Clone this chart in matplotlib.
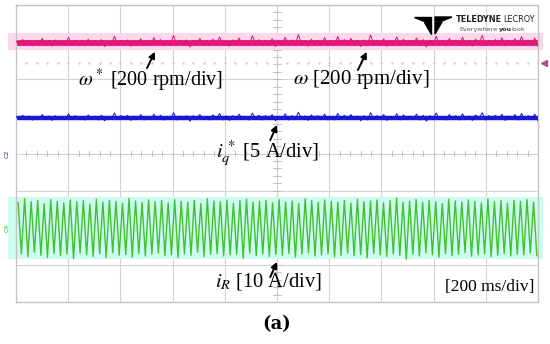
import numpy as np
import matplotlib.pyplot as plt
from matplotlib.patches import Polygon

plt.rcParams['font.family'] = ['Liberation Serif', 'DejaVu Serif']
plt.rcParams['mathtext.fontset'] = 'stix'

# scope settings (divisions)
n_xdiv = 10
n_ydiv = 8
trigger_level = 2.44

# speed trace (pink), noise in 1/100 div
pink_level = 2.98
pink_noise = [
    5, -6, 9, -4, 7, -8, 4, -5, 12, -6, 6, -9, 8, -4, 5, -7, 15, -5, 7, -6,
    4, -8, 10, -5, 6, -7, 9, -10, 5, -4, 18, -6, 7, -5, 8, -9, 6, -4, 11, -7,
    5, -6, 14, -5, 9, -8, 4, -6, 20, -7, 6, -5, 8, -11, 7, -4, 12, -6, 5, -8,
    10, -5, 16, -7, 6, -9, 8, -5, 13, -6, 4, -7, 19, -4, 9, -8, 7, -6, 11, -10,
    5, -5, 15, -7, 8, -6, 22, -4, 6, -9, 10, -5, 7, -6, 14, -8, 5, -7, 17, -5,
    9, -6, 12, -4, 6, -10, 8, -7, 21, -5, 7, -6, 11, -9, 5, -4, 16, -8, 10, -6,
    6, -5, 13, -7, 9, -11, 7, -4, 18, -6, 5, -8, 12, -5, 8, -7, 15, -6, 6, -9,
    10, -4, 20, -7, 7, -6, 9, -5, 14, -8, 6, -4, 11, -7, 17, -6, 8, -5, 13, -9]

# iq trace (blue)
blue_level = 0.96
blue_noise = [
    4, -5, 7, -3, 5, -6, 3, -4, 9, -5, 5, -7, 6, -3, 4, -5, 11, -4, 6, -5,
    3, -6, 8, -4, 5, -6, 7, -8, 4, -3, 13, -5, 6, -4, 7, -7, 5, -3, 9, -6,
    4, -5, 10, -4, 7, -6, 3, -5, 14, -6, 5, -4, 6, -9, 6, -3, 9, -5, 4, -6,
    8, -4, 12, -6, 5, -7, 6, -4, 10, -5, 3, -6, 13, -3, 7, -6, 6, -5, 9, -8,
    4, -4, 11, -6, 6, -5, 15, -3, 5, -7, 8, -4, 6, -5, 10, -6, 4, -6, 12, -4,
    7, -5, 9, -3, 5, -8, 6, -6, 14, -4, 6, -5, 9, -7, 4, -3, 11, -6, 8, -5,
    5, -4, 10, -6, 7, -9, 6, -3, 13, -5, 4, -6, 9, -4, 6, -6, 11, -5, 5, -7,
    8, -3, 14, -6, 6, -5, 7, -4, 10, -7, 5, -3, 9, -6, 12, -5, 6, -4, 10, -8]

# iR trace (green): peak / trough of every cycle, div
green_period = 0.125
green_peaks = [
    -1.32, -1.22, -1.30, -1.26, -1.35, -1.24, -1.29, -1.33, -1.25, -1.30,
    -1.27, -1.36, -1.23, -1.31, -1.26, -1.29, -1.34, -1.21, -1.28, -1.32,
    -1.25, -1.30, -1.27, -1.33, -1.24, -1.29, -1.31, -1.26, -1.35, -1.22,
    -1.28, -1.30, -1.25, -1.34, -1.27, -1.23, -1.31, -1.29, -1.26, -1.33,
    -1.24, -1.30, -1.28, -1.35, -1.22, -1.27, -1.32, -1.25, -1.29, -1.31,
    -1.26, -1.34, -1.23, -1.30, -1.28, -1.25, -1.33, -1.27, -1.20, -1.31,
    -1.29, -1.24, -1.32, -1.26, -1.30, -1.35, -1.23, -1.28, -1.31, -1.25,
    -1.29, -1.33, -1.22, -1.30, -1.27, -1.34, -1.26, -1.29, -1.24, -1.31]
green_troughs = [
    -2.70, -2.78, -2.66, -2.74, -2.80, -2.69, -2.75, -2.71, -2.83, -2.68,
    -2.73, -2.77, -2.70, -2.81, -2.67, -2.74, -2.72, -2.79, -2.69, -2.76,
    -2.71, -2.68, -2.75, -2.73, -2.80, -2.70, -2.74, -2.66, -2.78, -2.72,
    -2.69, -2.76, -2.73, -2.71, -2.82, -2.68, -2.75, -2.70, -2.77, -2.72,
    -2.74, -2.69, -2.79, -2.71, -2.67, -2.76, -2.73, -2.70, -2.78, -2.74,
    -2.68, -2.75, -2.72, -2.81, -2.69, -2.73, -2.77, -2.70, -2.74, -2.85,
    -2.71, -2.76, -2.68, -2.73, -2.79, -2.70, -2.75, -2.72, -2.67, -2.77,
    -2.73, -2.70, -2.78, -2.74, -2.69, -2.76, -2.71, -2.73, -2.68, -2.75]

W, H = 550, 344
fig = plt.figure(figsize=(W / 100, H / 100), dpi=100)
ax = fig.add_axes([16 / W, 1 - 302 / H, 522 / W, 297 / H])
ax.set_xlim(0, n_xdiv)
ax.set_ylim(-n_ydiv / 2, n_ydiv / 2)
ax.set_xticks([])
ax.set_yticks([])
for s in ax.spines.values():
    s.set_color('#C4C4C4')
    s.set_linewidth(1.0)

# graticule
for i in range(1, n_xdiv):
    ax.axvline(i, color='#D2D2D2', lw=0.8, zorder=0)
for j in range(-n_ydiv // 2 + 1, n_ydiv // 2):
    ax.axhline(j, color='#D2D2D2', lw=0.8, zorder=0)
for x in np.arange(0, n_xdiv + 0.01, 0.2):
    ax.plot([x, x], [-0.07, 0.07], color='#B8B8B8', lw=0.6, zorder=0)
for y in np.arange(-n_ydiv / 2, n_ydiv / 2 + 0.01, 0.2):
    ax.plot([4.93, 5.07], [y, y], color='#B8B8B8', lw=0.6, zorder=0)
tx = np.arange(0, n_xdiv + 0.01, 0.2)
ax.plot(tx, np.full(len(tx), trigger_level), ls='none', marker='.', ms=1.3,
        color='#CACACA', zorder=0)
ax.plot([10.12], [trigger_level], marker='<', ms=4, color='#B04C9C',
        clip_on=False)

# glow bands behind traces
ax.fill_between([-0.15, 10.1], pink_level - 0.19, pink_level + 0.27,
                color='#FCD8EC', lw=0, clip_on=False, zorder=1)
ax.fill_between([-0.15, 10.1], min(green_troughs) + 0.02, max(green_peaks) + 0.03,
                color='#CCFDF0', lw=0, clip_on=False, zorder=1)

# pink
tp = np.linspace(0, n_xdiv, len(pink_noise))
ax.plot([0, n_xdiv], [pink_level, pink_level], color='#E8187C', lw=4.2,
        solid_capstyle='butt', zorder=2)
ax.plot(tp, pink_level + np.array(pink_noise) / 100, color='#E0106E',
        lw=0.7, zorder=3)

# blue
tb = np.linspace(0, n_xdiv, len(blue_noise))
ax.plot([0, n_xdiv], [blue_level, blue_level], color='#1C1CD8', lw=3.2,
        solid_capstyle='butt', zorder=2)
ax.plot(tb, blue_level + np.array(blue_noise) / 100, color='#1414D0',
        lw=0.7, zorder=3)

# green
tg = []
yg = []
for k in range(len(green_peaks)):
    tg += [0.04 + k * green_period, 0.04 + (k + 0.5) * green_period]
    yg += [green_peaks[k], green_troughs[k]]
ax.plot(tg, yg, color='#44C02E', lw=1.0, zorder=3)

# channel markers
ax.text(-0.12, 0.0, 'C2', color='#2020C8', fontsize=4.5, rotation=90,
        ha='right', va='center', family='DejaVu Sans', clip_on=False)
ax.text(-0.12, -2.0, 'C4', color='#30B030', fontsize=4.5, rotation=90,
        ha='right', va='center', family='DejaVu Sans', clip_on=False)

# labels
fs = 14.5
ax.text(1.19, 1.98, r'$\omega^*$ [200 rpm/div]', fontsize=fs, ha='left', va='center')
ax.text(5.31, 1.98, r'$\omega$ [200 rpm/div]', fontsize=fs + 0.5, ha='left', va='center')
ax.text(3.83, -0.02, r'$i_q^{\,*}$ [5 A/div]', fontsize=fs + 0.3, ha='left', va='center')
ax.text(3.81, -3.44, r'$i_R$ [10 A/div]', fontsize=fs + 0.3, ha='left', va='center')
ax.text(9.94, -3.6, '[200 ms/div]', fontsize=12.5, ha='right', va='center')

arrows = [((2.51, 2.30), (2.66, 2.74)), ((6.55, 2.25), (6.72, 2.74)),
          ((4.87, 0.36), (5.0, 0.77)), ((4.87, -3.33), (5.0, -2.92))]
for tail, head in arrows:
    ax.annotate('', xy=head, xytext=tail,
                arrowprops=dict(arrowstyle='-|>', color='black', lw=1.4,
                                mutation_scale=9, shrinkA=0, shrinkB=0))

# logo
def fc(x, y):
    return (x / W, 1 - y / H)

fig.patches.append(Polygon([fc(414, 17), fc(431, 17), fc(431, 21), fc(424, 21)],
                           closed=True, color='black', transform=fig.transFigure))
fig.patches.append(Polygon([fc(435, 17), fc(452, 17), fc(442, 21), fc(435, 21)],
                           closed=True, color='black', transform=fig.transFigure))
fig.patches.append(Polygon([fc(424, 22), fc(431, 22), fc(431, 34)],
                           closed=True, color='black', transform=fig.transFigure))
fig.patches.append(Polygon([fc(435, 22), fc(442, 22), fc(435, 34)],
                           closed=True, color='black', transform=fig.transFigure))
fig.text(*fc(456, 19.5), 'TELEDYNE', family='DejaVu Sans', weight='bold',
         fontsize=5.9, va='center', ha='left', color='#222222')
fig.text(*fc(535, 19.5), 'LECROY', family='DejaVu Sans', fontsize=5.9,
         va='center', ha='right', color='#222222')
fig.text(*fc(498, 29.5), 'Everywhere', family='DejaVu Sans', fontsize=4.6,
         va='center', ha='right', color='#555555')
fig.text(*fc(499, 29.5), 'you', family='DejaVu Sans', weight='bold', fontsize=4.6,
         va='center', ha='left', color='#333333')
fig.text(*fc(511, 29.5), 'look', family='DejaVu Sans', fontsize=4.6,
         va='center', ha='left', color='#555555')

fig.text(*fc(277, 324), '(a)', fontsize=13, weight='bold', ha='center',
         va='center', family='DejaVu Serif')

fig.savefig('out.png', dpi=100)
